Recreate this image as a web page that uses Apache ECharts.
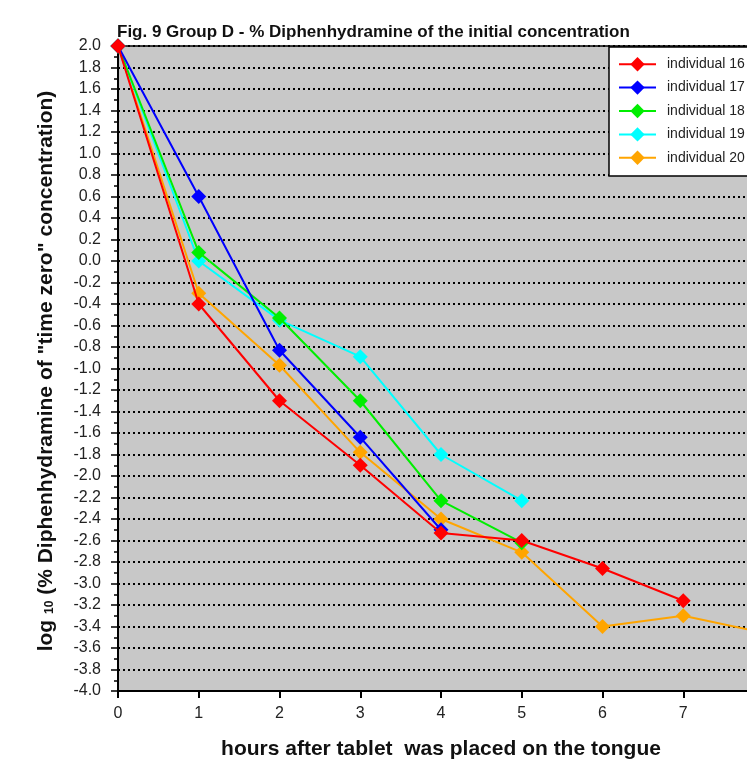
<!DOCTYPE html>
<html>
<head>
<meta charset="utf-8">
<script src="https://cdn.jsdelivr.net/npm/echarts@6/dist/echarts.min.js"></script>
<style>
  html, body { margin: 0; padding: 0; background: #fff; }
  #chart { width: 747px; height: 759px; }
</style>
</head>
<body>
<div id="chart"></div>
<script>
// hours after the tablet was placed on the tongue
var hours = [0, 1, 2, 3, 4, 5, 6, 7, 8];
var yTicks = [-4, 2, 0.2];

var names = ['individual 16', 'individual 17', 'individual 18', 'individual 19', 'individual 20'];
var colors = ['#ff0000', '#0000ff', '#00ee00', '#00ffff', '#ffa500'];

// log10 of % of time-zero concentration
var ind16 = [2.0, -0.40, -1.30, -1.90, -2.53, -2.60, -2.86, -3.16];
var ind17 = [2.0, 0.60, -0.83, -1.64, -2.50];
var ind18 = [2.0, 0.08, -0.53, -1.30, -2.23, -2.62];
var ind19 = [2.0, 0.00, -0.55, -0.89, -1.80, -2.23];
var ind20 = [2.0, -0.30, -0.97, -1.78, -2.40, -2.71, -3.40, -3.30, -3.46];

var values = [ind16, ind17, ind18, ind19, ind20];

function pairs(arr) {
    return arr.map(function (v, i) { return [hours[i], v]; });
}

var chart = echarts.init(document.getElementById('chart'));

var series = [];
// draw in reverse so individual 16 (red) sits on top
for (var i = names.length - 1; i >= 0; i--) {
    series.push({
        name: names[i],
        type: 'line',
        data: pairs(values[i]),
        symbol: 'diamond',
        symbolSize: 15,
        color: colors[i],
        lineStyle: { width: 2, color: colors[i] },
        itemStyle: { color: colors[i] },
        z: 10 - i,
        animation: false
    });
}

var option = {
    backgroundColor: '#ffffff',
    title: {
        text: 'Fig. 9 Group D - % Diphenhydramine of the initial concentration',
        left: 112,
        top: 19,
        textStyle: { fontFamily: 'Liberation Sans', fontSize: 17, fontWeight: 'bold', color: '#111' }
    },
    grid: {
        left: 118,
        top: 46,
        height: 645,
        width: 646,
        outerBoundsMode: 'none',
        containLabel: false,
        show: true,
        backgroundColor: '#c8c8c8',
        borderColor: '#000',
        borderWidth: 1.5
    },
    legend: {
        data: names,
        orient: 'vertical',
        left: 609,
        top: 47,
        backgroundColor: '#fff',
        borderColor: '#000',
        borderWidth: 1.5,
        padding: [10, 30, 11, 9],
        itemGap: 9,
        itemWidth: 37,
        itemHeight: 18,
        textStyle: { fontFamily: 'Liberation Sans', fontSize: 14, color: '#222', padding: [0, 0, 0, 6] }
    },
    xAxis: {
        type: 'value',
        min: hours[0],
        max: hours[hours.length - 1],
        interval: 1,
        axisLine: { show: true, onZero: false, lineStyle: { color: '#000', width: 2 } },
        axisTick: { show: true, length: 7, lineStyle: { color: '#000', width: 2 } },
        splitLine: { show: false },
        axisLabel: { margin: 15, fontFamily: 'Liberation Sans', fontSize: 16, color: '#222' },
        name: 'hours after tablet  was placed on the tongue',
        nameLocation: 'middle',
        nameGap: 48,
        nameTextStyle: { fontFamily: 'Liberation Sans', fontSize: 21, fontWeight: 'bold', color: '#111' }
    },
    yAxis: {
        type: 'value',
        min: yTicks[0],
        max: yTicks[1],
        interval: yTicks[2],
        axisLine: { show: true, lineStyle: { color: '#000', width: 2 } },
        axisTick: { show: true, length: 7, lineStyle: { color: '#000', width: 1.5 } },
        minorTick: { show: true, splitNumber: 2, length: 4, lineStyle: { color: '#000', width: 1.5 } },
        splitLine: { show: true, lineStyle: { color: '#000', width: 2, type: [2, 3] } },
        axisLabel: {
            margin: 17,
            fontFamily: 'Liberation Sans',
            fontSize: 16,
            color: '#222',
            formatter: function (v) { return v.toFixed(1); }
        }
    },
    graphic: [{
        type: 'text',
        x: 46,
        y: 371,
        rotation: Math.PI / 2,
        style: {
            text: '{a|log }{b|10}{a| (% Diphenhydramine of "time zero" concentration)}',
            align: 'center',
            verticalAlign: 'middle',
            rich: {
                a: { fontFamily: 'Liberation Sans', fontSize: 21, fontWeight: 'bold', fill: '#111' },
                b: { fontFamily: 'Liberation Sans', fontSize: 12, fontWeight: 'bold', fill: '#111', padding: [8, 0, 0, 0] }
            }
        }
    }],
    series: series
};

chart.setOption(option);
</script>
</body>
</html>
